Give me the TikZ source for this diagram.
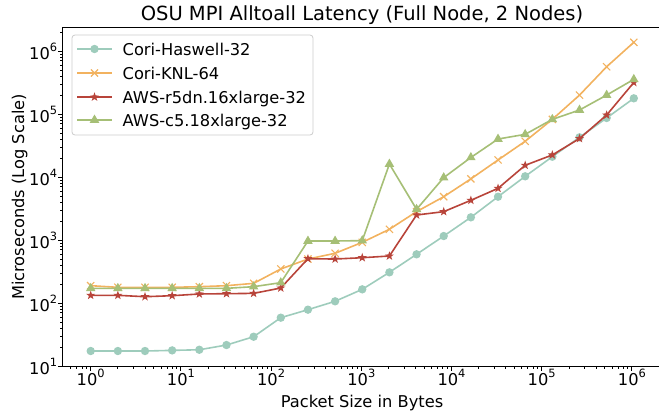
\documentclass[tikz,border=0pt]{standalone}
\usepackage{fontspec}
\setmainfont{DejaVu Sans}
\usetikzlibrary{shapes.geometric,calc}

\definecolor{haswell}{RGB}{158,204,188}
\definecolor{knl}{RGB}{242,178,95}
\definecolor{rfive}{RGB}{184,68,58}
\definecolor{cfive}{RGB}{166,191,118}
\definecolor{legendedge}{RGB}{204,204,204}

% tick label 10^n in the style of the axis labels
\newcommand{\pw}[1]{10\raisebox{7.6pt}{\fontsize{11.4pt}{12pt}\selectfont #1}}

\tikzset{
  spine/.style={line width=1pt, black},
  majortick/.style={line width=1pt, black},
  minortick/.style={line width=0.7pt, black},
  ticklabel/.style={font=\fontsize{16.25pt}{18pt}\selectfont, inner sep=0pt},
  series/.style={line width=1.6pt, line join=round},
  dotmark/.style={circle, fill=#1, draw=none, minimum size=8.4pt, inner sep=0pt},
  starmark/.style={star, star points=5, star point ratio=2.5, fill=#1, draw=none, minimum size=9.5pt, inner sep=0pt},
  trimark/.style={regular polygon, regular polygon sides=3, fill=#1, draw=none, minimum size=11pt, inner sep=0pt},
  xmark/.style={line width=1.1pt, #1},
}

% axis mapping: x = 90.7 + 90.2*log10(bytes), y = 366 - 63*(log10(us) - 1)
\newcommand{\defseries}[2]{%
  \foreach \v [count=\k from 0] in {#2} {
    \coordinate (#1\k) at ({90.7+27.155*\k},{366-63*(\v-1)});
  }%
}
\newcommand{\crossat}[2]{%
  \draw[xmark=#1] ($(#2)+(-3.6,-3.6)$) -- ($(#2)+(3.6,3.6)$)
                  ($(#2)+(-3.6,3.6)$) -- ($(#2)+(3.6,-3.6)$);%
}

\begin{document}
\begin{tikzpicture}[x=1pt,y=-1pt]
\useasboundingbox (0,0) rectangle (659,416);

% data (log10 of microseconds for 2^0 ... 2^20 bytes)
\defseries{hw}{1.238,1.238,1.238,1.248,1.258,1.333,1.465,1.767,1.894,2.027,2.217,2.487,2.773,3.063,3.36,3.687,4.011,4.322,4.63,4.937,5.249}
\defseries{kn}{2.275,2.249,2.249,2.249,2.259,2.275,2.312,2.54,2.698,2.789,2.963,3.17,3.45,3.687,3.97,4.27,4.567,4.915,5.3,5.75,6.138}
\defseries{rd}{2.122,2.122,2.1,2.116,2.143,2.148,2.153,2.238,2.703,2.698,2.719,2.746,3.397,3.45,3.63,3.82,4.186,4.35,4.61,4.984,5.5}
\defseries{cf}{2.233,2.233,2.233,2.233,2.233,2.233,2.259,2.323,2.984,2.984,2.99,4.206,3.487,3.99,4.31,4.603,4.677,4.915,5.063,5.3,5.55}

% Cori-Haswell-32
\draw[series, haswell] (hw0) \foreach \k in {1,...,20} { -- (hw\k) };
\foreach \k in {0,...,20} \node[dotmark=haswell] at (hw\k) {};
% Cori-KNL-64
\draw[series, knl] (kn0) \foreach \k in {1,...,20} { -- (kn\k) };
\foreach \k in {0,...,20} { \crossat{knl}{kn\k} }
% AWS-r5dn.16xlarge-32
\draw[series, rfive] (rd0) \foreach \k in {1,...,20} { -- (rd\k) };
\foreach \k in {0,...,20} \node[starmark=rfive] at (rd\k) {};
% AWS-c5.18xlarge-32
\draw[series, cfive] (cf0) \foreach \k in {1,...,20} { -- (cf\k) };
\foreach \k in {0,...,20} \node[trimark=cfive] at (cf\k) {};

% spines
\draw[spine] (62.7,27.3) -- (62.7,366) -- (661,366);
\draw[spine] (62.7,27.3) -- (661,27.3);

% x ticks
\foreach \e in {0,...,6} {
  \draw[majortick] ({90.7+90.2*\e},366) -- ({90.7+90.2*\e},371);
  \node[ticklabel, anchor=base] at ({90.7+90.2*\e},385) {\pw{\e}};
}
\foreach \e in {-1,...,6}
  \foreach \m in {2,...,9} {
    \pgfmathsetmacro{\lx}{\e+log10(\m)}
    \pgfmathparse{(\lx>-0.3)&&(\lx<6.32)?1:0}
    \ifnum\pgfmathresult=1
      \draw[minortick] ({90.7+90.2*\lx},366) -- ({90.7+90.2*\lx},369);
    \fi
  }

% y ticks
\foreach \e in {1,...,6} {
  \draw[majortick] (62.7,{366-63*(\e-1)}) -- (57.7,{366-63*(\e-1)});
  \node[ticklabel, anchor=base east] at (57.3,{366-63*(\e-1)+8}) {\pw{\e}};
}
\foreach \e in {1,...,6}
  \foreach \m in {2,...,9} {
    \pgfmathsetmacro{\ly}{\e+log10(\m)}
    \pgfmathparse{(\ly<6.38)?1:0}
    \ifnum\pgfmathresult=1
      \draw[minortick] (62.7,{366-63*(\ly-1)}) -- (59.7,{366-63*(\ly-1)});
    \fi
  }

% titles
\node[font=\fontsize{19.5pt}{22pt}\selectfont, anchor=base, inner sep=0pt] (title) at (362,20) {OSU MPI Alltoall Latency (Full Node, 2 Nodes)};
\node[font=\fontsize{16.25pt}{18pt}\selectfont, anchor=base, inner sep=0pt] (xlabel) at (362,407) {Packet Size in Bytes};
\node[font=\fontsize{16.25pt}{18pt}\selectfont, anchor=base, rotate=90, inner sep=0pt] (ylabel) at (24,197) {Microseconds (Log Scale)};

% legend
\draw[legendedge, fill=white, fill opacity=0.8, line width=0.8pt, rounded corners=3pt] (72,35) rectangle (313,135);
\foreach \yy/\nm in {49/a,73/b,97/c,120/d} {
  \coordinate (lg\nm l) at (77,\yy);
  \coordinate (lg\nm r) at (112,\yy);
  \coordinate (lg\nm m) at (94.5,\yy);
}
\draw[series, haswell] (lgal) -- (lgar); \node[dotmark=haswell] at (lgam) {};
\draw[series, knl] (lgbl) -- (lgbr); \crossat{knl}{lgbm}
\draw[series, rfive] (lgcl) -- (lgcr); \node[starmark=rfive] at (lgcm) {};
\draw[series, cfive] (lgdl) -- (lgdr); \node[trimark=cfive] at (lgdm) {};
\foreach \yy/\txt in {49/Cori-Haswell-32,73/Cori-KNL-64,97/AWS-r5dn.16xlarge-32,120/AWS-c5.18xlarge-32}
  \node[ticklabel, anchor=base west] at (122.5,\yy+6) {\txt};
\end{tikzpicture}
\end{document}
